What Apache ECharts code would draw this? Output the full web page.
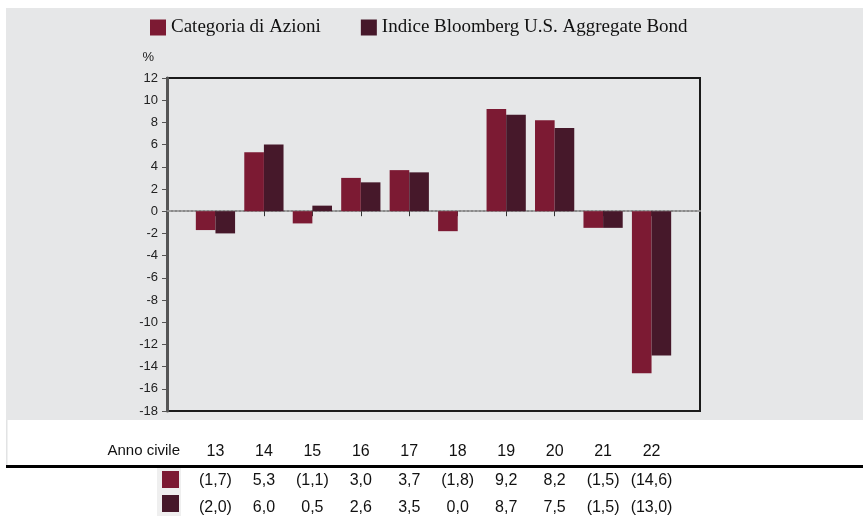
<!DOCTYPE html>
<html>
<head>
<meta charset="utf-8">
<script src="https://cdn.jsdelivr.net/npm/echarts@6/dist/echarts.min.js"></script>
<style>
  html, body { margin: 0; padding: 0; background: #ffffff; }
  #chart { width: 863px; height: 516px; }
</style>
</head>
<body>
<div id="chart"></div>
<script>
// Calendar years (two-digit) and annual returns in %
const years = ['13', '14', '15', '16', '17', '18', '19', '20', '21', '22'];
const fundReturns = [-1.7, 5.3, -1.1, 3.0, 3.7, -1.8, 9.2, 8.2, -1.5, -14.6];
const indexReturns = [-2.0, 6.0, 0.5, 2.6, 3.5, 0.0, 8.7, 7.5, -1.5, -13.0];
const seriesNames = ['Categoria di Azioni', 'Indice Bloomberg U.S. Aggregate Bond'];
const yTicks = { min: -18, max: 12, step: 2 };

const colors = ['#7c1a33', '#46182a'];
const sans = 'Liberation Sans, Arial, sans-serif';

// Pad with an empty slot at each end so the bars sit between the frame edges
const pad = arr => [null].concat(arr, [null]);
const cats = pad(years).map(v => v === null ? '' : v);
const fmt = v => {
  const s = Math.abs(v).toFixed(1).replace('.', ',');
  return v < 0 ? '(' + s + ')' : s;
};
const fundText = pad(fundReturns.map(fmt)).map(v => v === null ? '' : v);
const indexText = pad(indexReturns.map(fmt)).map(v => v === null ? '' : v);

// Label-only axes that form the table under the plot
const tableAxis = (data, offset) => ({
  type: 'category',
  data: data,
  boundaryGap: false,
  position: 'bottom',
  offset: offset,
  axisLine: { show: false },
  axisTick: { show: false },
  splitLine: { show: false },
  axisLabel: {
    interval: 0, margin: 0, fontSize: 16, fontFamily: sans, color: '#111',
    verticalAlign: 'middle'
  }
});

const chart = echarts.init(document.getElementById('chart'), null, { renderer: 'canvas' });
chart.setOption({
  backgroundColor: '#ffffff',
  animation: false,
  color: colors,
  graphic: [
    { type: 'rect', z: -10, shape: { x: 6, y: 8, width: 857, height: 412 }, style: { fill: '#e6e7e8' } },
    { type: 'rect', z: -10, shape: { x: 6, y: 420, width: 1.5, height: 46 }, style: { fill: '#e2e3e4' } },
    { type: 'rect', z: -10, shape: { x: 157, y: 467, width: 24, height: 49 }, style: { fill: '#efefef' } },
    { type: 'rect', shape: { x: 6, y: 465, width: 857, height: 3 }, style: { fill: '#000' } },
    { type: 'rect', shape: { x: 162, y: 471, width: 17, height: 17 }, style: { fill: colors[0] } },
    { type: 'rect', shape: { x: 162, y: 495, width: 17, height: 17 }, style: { fill: colors[1] } },
    { type: 'text', x: 180, y: 451, style: { text: 'Anno civile', font: '15px ' + sans, fill: '#111', textAlign: 'right', textVerticalAlign: 'middle' } }
  ],
  legend: {
    left: 150, top: 18, padding: 0,
    itemWidth: 16, itemHeight: 16, itemGap: 40,
    icon: 'rect',
    textStyle: { fontFamily: 'Liberation Serif, Times New Roman, serif', fontSize: 19, color: '#111' },
    data: seriesNames
  },
  grid: {
    left: 167, top: 78, width: 533, height: 334,
    show: true, borderColor: '#1a1a1a', borderWidth: 2, backgroundColor: 'transparent'
  },
  xAxis: [
    {
      type: 'category', data: cats, boundaryGap: false,
      axisLine: { onZero: true, lineStyle: { color: '#8a8a8a', width: 2, type: 'dotted' } },
      axisTick: {
        show: true, inside: false, length: 5, lineStyle: { color: '#333' },
        interval: (i) => i > 0 && i < cats.length - 1
      },
      axisLabel: { show: false },
      splitLine: { show: false }
    },
    tableAxis(cats, 41),
    tableAxis(fundText, 70),
    tableAxis(indexText, 97)
  ],
  yAxis: {
    type: 'value', min: yTicks.min, max: yTicks.max, interval: yTicks.step,
    name: '%', nameLocation: 'end', nameGap: 14,
    nameTextStyle: { fontFamily: sans, fontSize: 13, color: '#222', align: 'right', padding: [0, 13, 0, 0] },
    axisLine: { show: true, lineStyle: { color: '#555', width: 3 } },
    axisTick: { show: true, length: 5, lineStyle: { color: '#555' } },
    axisLabel: { fontFamily: sans, fontSize: 13, color: '#222', margin: 9 },
    splitLine: { show: false }
  },
  series: [
    { name: seriesNames[0], type: 'bar', data: pad(fundReturns), barWidth: '40.5%', barGap: '0%', xAxisIndex: 0 },
    { name: seriesNames[1], type: 'bar', data: pad(indexReturns), barWidth: '40.5%', barGap: '0%', xAxisIndex: 0 }
  ]
});
</script>
</body>
</html>
